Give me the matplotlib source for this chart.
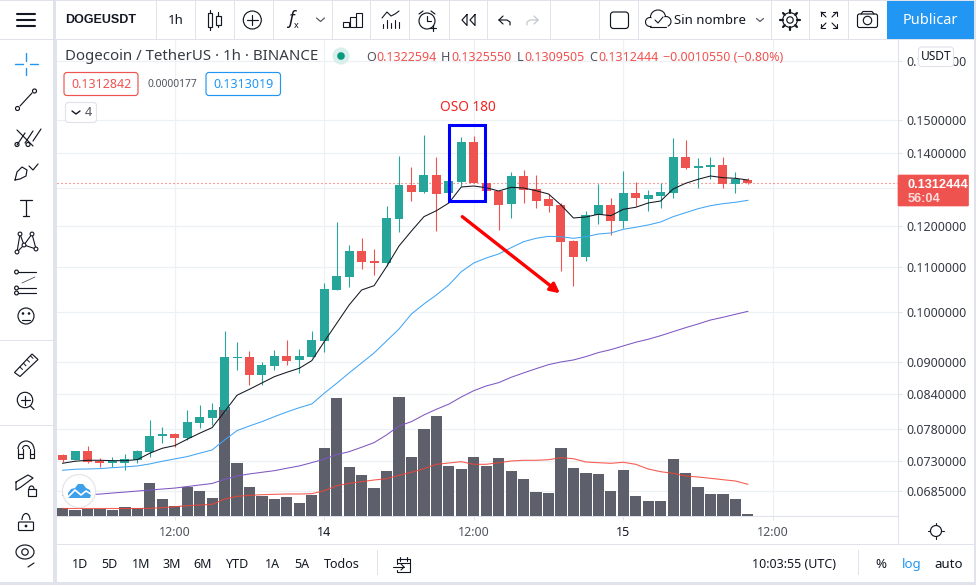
import matplotlib
matplotlib.use('Agg')
import matplotlib.pyplot as plt
from matplotlib.patches import Rectangle, Circle, FancyBboxPatch, Polygon, Arc
from matplotlib.ticker import NullLocator

plt.rcParams['font.family'] = ['Noto Sans', 'DejaVu Sans']

# hourly candles, bar 0 is 03:00 on the 13th
opens = [.07389, .07311, .07451, .07300, .07270, .07270, .07311, .07440, .07697, .07725,
         .07655, .07906, .07990, .08126, .09071, .09090, .08751, .08918, .09109, .09032,
         .09090, .09402, .10472, .10764, .11372, .11134, .11087, .12168, .13075, .12883,
         .13354, .12856, .13158, .14319, .13130, .12910, .12560, .13326, .12965, .12693,
         .12534, .11615, .11229, .12272, .12534, .12117, .12856, .12693, .12775, .12856,
         .13872, .13553, .13582, .13640, .13102, .13226]
highs = [.07405, .07451, .07531, .07342, .07363, .07405, .07467, .07956, .07835, .07746,
         .08126, .08212, .08247, .09603, .09383, .09206, .08994, .09225, .09422, .09245,
         .09603, .10628, .12091, .11518, .11689, .11420, .12507, .13902, .13582, .14532,
         .13872, .13185, .14471, .14501, .13130, .12910, .13439, .13495, .13354, .12829,
         .12587, .11639, .12375, .13102, .12720, .13467, .13158, .12937, .13130, .14440,
         .14379, .13843, .13872, .13872, .13439, .13256]
lows = [.07285, .07311, .07265, .07209, .07199, .07158, .07270, .07363, .07584, .07520,
        .07627, .07828, .07873, .08075, .08843, .08567, .08567, .08843, .08937, .08788,
        .09090, .09186, .10472, .10539, .10947, .10810, .11017, .11838, .12640, .12856,
        .11863, .12802, .13047, .13130, .12883, .11888, .12194, .12587, .12454, .12349,
        .10901, .10561, .11134, .12040, .11763, .11939, .12507, .12375, .12454, .12720,
        .13524, .12992, .13241, .12992, .12856, .13095]
closes = [.07311, .07451, .07285, .07270, .07291, .07327, .07451, .07692, .07725, .07660,
          .07923, .08007, .08126, .09090, .09090, .08751, .08937, .09109, .09013, .09109,
          .09422, .10494, .10787, .11372, .11110, .11087, .12194, .13075, .12883, .13354,
          .12829, .13185, .14319, .13130, .12910, .12534, .13326, .12937, .12640, .12507,
          .11590, .11229, .12272, .12534, .12117, .12856, .12720, .12802, .12883, .13872,
          .13553, .13611, .13640, .13102, .13241, .1312444]
ma_black = [.07260, .07291, .07306, .07306, .07300, .07300, .07316, .07416, .07494, .07536,
            .07638, .07736, .07828, .08097, .08383, .08490, .08604, .08719, .08800, .08875,
            .09019, .09389, .09760, .10146, .10472, .10568, .11001, .11493, .11863, .12228,
            .12383, .12587, .13020, .13047, .13000, .12910, .13011, .12992, .12918, .12829,
            .12534, .12194, .12220, .12290, .12254, .12420, .12473, .12587, .12640, .12965,
            .13122, .13233, .13326, .13278, .13261, .13213]
ma_blue = [.07153, .07169, .07173, .07178, .07193, .07204, .07219, .07250, .07291, .07327,
           .07363, .07416, .07467, .07627, .07779, .07856, .07928, .08012, .08092, .08165,
           .08230, .08418, .08598, .08788, .08975, .09167, .09402, .09643, .09954, .10167,
           .10362, .10584, .10885, .11087, .11205, .11300, .11452, .11598, .11681, .11730,
           .11720, .11681, .11720, .11788, .11813, .11906, .11957, .12015, .12091, .12228,
           .12331, .12435, .12515, .12568, .12605, .12658]
ma_purple = [.06784, .06788, .06795, .06802, .06817, .06831, .06846, .06860, .06875, .06889,
             .06911, .06934, .06956, .07018, .07067, .07098, .07123, .07147, .07184, .07219,
             .07270, .07322, .07394, .07440, .07510, .07584, .07708, .07856, .07928, .08041,
             .08138, .08227, .08352, .08464, .08549, .08609, .08707, .08788, .08867, .08943,
             .08994, .09032, .09096, .09174, .09231, .09304, .09377, .09436, .09508, .09589,
             .09670, .09746, .09828, .09885, .09947, .10010]
volumes = [8, 6, 7.3, 7, 6, 9, 8, 33, 17, 10,
           29.3, 25, 18, 109.3, 53, 29, 20, 17, 19, 13,
           21, 68, 118, 49, 41, 28, 45, 119, 59, 87,
           100, 50, 47, 59, 50, 58, 45, 37, 24, 23,
           68, 48, 43, 42, 25, 46, 20, 15, 15, 57,
           43, 29, 22, 22, 17, 2]
volume_ma = [7.5, 7.5, 7.5, 7.5, 7.5, 7.5, 7.5, 7.7, 8.3, 9.3,
             10.3, 11, 11.7, 17, 19.7, 20.7, 21.3, 21.7, 22, 22,
             22.3, 25.3, 30.3, 32.7, 34.3, 36, 37.3, 40.7, 43.7, 47.3,
             51.7, 53, 54.3, 51.7, 51.7, 53.3, 55, 55.7, 55.7, 56.3,
             58.3, 57.3, 54, 53.3, 52.7, 53.7, 51.7, 47, 44.3, 42.7,
             40, 39, 37.7, 36.3, 35, 31.7]

price_ticks = [.17, .15, .14, .13, .12, .11, .10, .09, .084, .078, .073, .0685]
time_ticks = [9, 21, 33, 45, 57]
time_labels = ['12:00', '14', '12:00', '15', '12:00']
last_price = .1312444

UP = '#26a69a'
DOWN = '#ef5350'
GRID = '#edf0f5'
EDGE = '#e0e3eb'
INK = '#131722'
GREY = '#50535e'
BLUE = '#2196f3'

fig = plt.figure(figsize=(9.76, 5.85), dpi=100)
W, H = 976.0, 585.0
rect = [57 / W, 1 - 516 / H, (898 - 57) / W, (516 - 40) / H]
bar_lim = (-0.45, 67.05)
price_lim = (.06494, .17765)

# grid and axis labels sit at the bottom
base = fig.add_axes(rect, zorder=1)
base.set_yscale('log')
base.set_xlim(bar_lim)
base.set_ylim(price_lim)
base.yaxis.tick_right()
base.set_yticks(price_ticks)
# the 0.13 label is hidden behind the last price tag
base.set_yticklabels(['' if p == .13 else '%.7f' % p for p in price_ticks], fontsize=9, color='#363a45')
base.yaxis.set_minor_locator(NullLocator())
base.set_xticks(time_ticks)
base.set_xticklabels(time_labels, fontsize=9, color=GREY)
for lab in base.get_xticklabels():
    if lab.get_text() in ('14', '15'):
        lab.set_color(INK)
base.tick_params(axis='y', length=3, width=0.72, color=EDGE, pad=2.8)
base.tick_params(axis='x', length=3, width=0.72, color=EDGE, pad=4)
base.grid(True, color=GRID, lw=0.9)
base.set_axisbelow(True)
for side in ('top', 'left'):
    base.spines[side].set_visible(False)
base.spines['right'].set_color(EDGE)
base.spines['bottom'].set_color(EDGE)

vol_ax = fig.add_axes(rect, zorder=2)
vol_ax.patch.set_alpha(0)
vol_ax.set_xlim(bar_lim)
vol_ax.set_ylim(0, 476)
vol_ax.axis('off')
bars = list(range(len(closes)))
vol_ax.bar(bars, volumes, width=0.9, color='#5d606b')
vol_ax.plot(bars, volume_ma, color='#f44336', lw=0.8, alpha=0.85)

ax = fig.add_axes(rect, zorder=3)
ax.patch.set_alpha(0)
ax.set_yscale('log')
ax.set_xlim(bar_lim)
ax.set_ylim(price_lim)
ax.axis('off')
colors = [UP if c >= o else DOWN for o, c in zip(opens, closes)]
ax.axhline(last_price, color=DOWN, lw=0.8, ls=(0, (1, 2.6)), zorder=1)
ax.vlines(bars, lows, highs, colors=colors, lw=0.8, zorder=2)
ax.bar(bars, [max(abs(c - o), .00012) for o, c in zip(opens, closes)],
       bottom=[min(o, c) for o, c in zip(opens, closes)], width=0.72, color=colors, zorder=3)
ax.plot(bars, ma_purple, color='#7e57c2', lw=0.75, zorder=4)
ax.plot(bars, ma_blue, color='#42a5f5', lw=0.75, zorder=4)
ax.plot(bars, ma_black, color='#131722', lw=0.75, zorder=4)

# what the author drew on the chart
ax.add_patch(Rectangle((31.0, .1265), 2.9, .1485 - .1265, fill=False, ec='#0000ff', lw=2.2, zorder=5))
ax.annotate('', xy=(39.92, .1040), xytext=(32.08, .12228), zorder=5,
            arrowprops=dict(arrowstyle='-|>,head_length=0.55,head_width=0.28', color='#ff0000', lw=2.4,
                            shrinkA=0, shrinkB=0))

# window chrome, in screen pixels
ui = fig.add_axes([0, 0, 1, 1], zorder=10)
ui.patch.set_alpha(0)
ui.set_xlim(0, W)
ui.set_ylim(H, 0)
ui.axis('off')


def box(x0, y0, x1, y1, color, z=1):
    ui.add_patch(Rectangle((x0, y0), x1 - x0, y1 - y0, fc=color, ec='none', zorder=z))


def line(xs, ys, color=INK, lw=0.85):
    ui.plot(xs, ys, color=color, lw=lw, solid_capstyle='round', zorder=5)


def ring(x, y, r, color=INK, lw=0.85, fc='none'):
    ui.add_patch(Circle((x, y), r, fc=fc, ec=color, lw=lw, zorder=5))


def rbox(x0, y0, x1, y1, ec, fc='white', lw=0.8, r=2):
    ui.add_patch(FancyBboxPatch((x0 + r, y0 + r), x1 - x0 - 2 * r, y1 - y0 - 2 * r,
                                boxstyle='round,pad=%d,rounding_size=%d' % (r, r),
                                fc=fc, ec=ec, lw=lw, zorder=4))


def label(x, y, s, size=9, color=INK, ha='left', weight='normal', style='normal', family=None):
    t = ui.text(x, y + 1, s, fontsize=size, color=color, ha=ha, va='center', weight=weight, style=style, zorder=6)
    if family:
        t.set_family(family)


# panels
box(0, 0, W, 40, 'white')
box(0, 40, 53, 585, 'white')
box(53, 40, 57, 585, EDGE)
box(53, 0, 56, 40, EDGE)
box(0, 39, W, 40.3, EDGE)
box(0, 0, W, 1, EDGE)
box(57, 544, W, 585, 'white')
box(57, 543.5, 976, 545, EDGE)
box(0, 582, W, 585, EDGE)
box(974, 0, W, 585, EDGE)
box(0, 339.5, 53, 341, EDGE)
box(0, 424.5, 53, 426, EDGE)
for x in [156, 194.7, 233.7, 272.7, 331.7, 370, 409, 448.7, 487, 550, 599.3, 638, 770.7, 809.3, 848.3]:
    box(x, 1, x + 1, 39, EDGE)
box(887, 1, 974, 39, BLUE)
label(930.5, 19, 'Publicar', 10.5, 'white', ha='center')

# top toolbar
for y in (14, 20, 26.3):
    line([17, 35], [y, y], lw=1.5)
label(65, 19, 'DOGEUSDT', 9, INK, weight='bold', family='Liberation Sans')
label(176, 19, '1h', 9.5, INK, ha='center')
line([210, 210], [10, 30])
box(208, 13, 212, 27, 'white', 5)
ui.add_patch(Rectangle((208, 13), 4, 14, fc='none', ec=INK, lw=0.85, zorder=5))
line([218, 218], [12, 27])
ui.add_patch(Rectangle((216, 16), 5, 9, fc='white', ec=INK, lw=0.85, zorder=6))
ring(252.3, 20, 9)
line([247, 257.5], [20, 20])
line([252.3, 252.3], [15, 25])
label(291, 18.5, 'f', 13, INK, ha='center', style='italic')
label(296, 24, 'x', 6.5, INK, ha='center')
line([316.5, 320.5, 324.5], [18, 21.5, 18], GREY)
for x0, top in ((343, 22), (350, 17), (356, 13)):
    ui.add_patch(Rectangle((x0, top), 6, 27 - top, fc='none', ec=INK, lw=0.8, zorder=5))
line([382, 387, 391, 395, 399], [18, 12, 16, 14, 11], lw=0.8)
for x, top in ((383, 24), (387, 20), (391, 23), (395, 20), (399, 22)):
    line([x, x], [top, 28], lw=0.8)
ring(427, 21, 8)
line([427, 427, 431], [16, 21, 21])
line([419, 423], [14, 11])
line([431, 435], [11, 14])
line([433, 433], [25, 31])
line([430, 436], [28, 28])
line([467, 462, 467, 467], [14.5, 20, 25.5, 14.5])
line([475, 470, 475, 475], [14.5, 20, 25.5, 14.5])
line([499, 503], [20, 16])
line([499, 503], [20, 24])
line([499, 507, 510, 510], [20, 20, 22, 25])
line([538, 534], [20, 16], '#c1c4cd')
line([538, 534], [20, 24], '#c1c4cd')
line([538, 530, 527, 527], [20, 20, 22, 25], '#c1c4cd')
rbox(610.5, 12, 628.5, 28.5, INK, lw=0.85, r=3)
ui.add_patch(Arc((658, 17), 15, 14, theta1=180, theta2=360, ec=INK, lw=0.8, zorder=5))
ui.add_patch(Arc((650, 22), 9, 9, theta1=70, theta2=290, ec=INK, lw=0.8, zorder=5))
ui.add_patch(Arc((666, 21.5), 10, 10, theta1=250, theta2=70, ec=INK, lw=0.8, zorder=5))
line([650, 666], [26.5, 26.5], lw=0.8)
line([655, 658, 663], [20, 23, 17], lw=0.8)
label(674, 19, 'Sin nombre', 9.5, INK)
line([756.5, 760, 763.5], [18.5, 21.5, 18.5], GREY)
ring(790, 20, 3.2)
ring(790, 20, 7.3)
for c, s in [(1, 0), (.71, .71), (0, 1), (-.71, .71), (-1, 0), (-.71, -.71), (0, -1), (.71, -.71)]:
    line([790 + 7.3 * c, 790 + 9.8 * c], [20 + 7.3 * s, 20 + 9.8 * s], lw=1.6)
for sx, sy in ((-1, -1), (1, -1), (-1, 1), (1, 1)):
    line([829 + 8 * sx, 829 + 3 * sx], [20 + 8 * sy, 20 + 3 * sy], lw=0.8)
    line([829 + 8 * sx, 829 + 4 * sx], [20 + 8 * sy, 20 + 8 * sy], lw=0.8)
    line([829 + 8 * sx, 829 + 8 * sx], [20 + 8 * sy, 20 + 4 * sy], lw=0.8)
rbox(857.5, 14, 877.5, 27.5, INK, lw=0.85, r=2)
ring(867.5, 20.5, 4.2)
line([861, 863, 872, 874], [14, 11.5, 11.5, 14])

# left toolbar
line([26, 26], [53, 60.5], BLUE, 1.0)
line([26, 26], [67.5, 75], BLUE, 1.0)
line([15, 22.5], [64, 64], BLUE, 1.0)
line([29.5, 38], [64, 64], BLUE, 1.0)
line([20, 32], [106, 93])
ring(17.5, 108.5, 2)
ring(34.5, 91, 2)
for dx in (0, 8, 16):
    line([17 + dx, 29 + dx - 4], [145 - dx * .25, 133 - dx * .25])
line([17, 33], [130, 146])
ring(17, 144.5, 2)
ring(28, 144.5, 2)
line([15, 17, 22, 27, 26, 20, 15], [180, 172, 167, 170, 176, 179, 180])
line([29, 33, 38], [166, 170, 164])
line([20, 32], [200, 200], lw=0.9)
line([26, 26], [200, 216], lw=0.9)
line([23, 29], [216, 216], lw=0.9)
for (x0, y0), (x1, y1) in [((17, 252), (20, 234)), ((20, 234), (24, 245)), ((24, 245), (32, 234)),
                           ((32, 234), (36, 249)), ((24, 245), (36, 249)), ((17, 252), (24, 245))]:
    line([x0, x1], [y0, y1], lw=0.8)
for x, y in [(17, 252), (20, 234), (24, 245), (32, 234), (36, 249)]:
    ring(x, y, 1.9, lw=0.8, fc='white')
for y, x0 in ((272, 18), (288, 18), (293, 18)):
    line([x0, 36], [y, y], lw=0.85)
    ring(16.5, y, 1.9, fc='white')
line([22, 35], [283, 277], GREY, 0.6)
ring(26, 316, 8)
line([22, 30], [320, 320])
ring(23, 313.5, 0.7, fc=INK)
ring(29, 313.5, 0.7, fc=INK)
ui.add_patch(Polygon([(14.5, 372.5), (32, 354), (38, 359.5), (20, 376.5)], fill=False, ec=INK, lw=0.85, zorder=5))
for k in range(4):
    line([20 + 3.5 * k, 22.5 + 3.5 * k], [367 - 3.7 * k, 369.5 - 3.7 * k], lw=0.7)
ring(25, 400, 7.7)
line([20.5, 29.5], [400, 400])
line([25, 25], [395.5, 404.5])
line([30.5, 34], [406, 409.5])
ui.add_patch(Arc((26, 449), 16, 16, theta1=180, theta2=360, ec=INK, lw=0.85, zorder=5))
ui.add_patch(Arc((26, 449), 7, 7, theta1=180, theta2=360, ec=INK, lw=0.85, zorder=5))
for x0, x1 in ((18, 22.5), (29.5, 34)):
    line([x0, x0, x1, x1], [449, 458, 458, 449])
    line([x0, x1], [454, 454])
line([16, 28, 33, 21, 16, 16], [482, 475, 478, 487, 490, 482], lw=0.85)
ui.add_patch(Rectangle((27.5, 489), 8, 6.5, fc='white', ec=INK, lw=0.85, zorder=5))
ui.add_patch(Arc((31.5, 489), 5, 6, theta1=180, theta2=360, ec=INK, lw=0.85, zorder=5))
rbox(18.5, 522, 33.5, 530.5, INK, lw=0.85, r=1)
ui.add_patch(Arc((26, 520), 8, 13, theta1=180, theta2=360, ec=INK, lw=0.85, zorder=5))
ring(26, 526, 0.8, fc=INK)
ui.add_patch(Arc((25, 552), 18, 14, theta1=0, theta2=360, ec=INK, lw=0.85, zorder=5))
ring(25, 552, 3.2)
line([28, 34], [567, 563], lw=0.85)

# legend line
label(65, 56, 'Dogecoin / TetherUS · 1h · BINANCE', 10.8, '#363a45')
ring(341, 56, 8.5, color='none', fc='#d8efeb')
ring(341, 56, 3.8, color='none', fc='#089981')
quote = [(366, 'O', GREY), (376, '0.1322594', DOWN), (441, 'H', GREY), (451, '0.1325550', DOWN),
         (516.5, 'L', GREY), (524, '0.1309505', DOWN), (589, 'C', GREY), (598, '0.1312444', DOWN),
         (663, '\u22120.0010550 (\u22120.80%)', DOWN)]
for x, s, col in quote:
    label(x, 56.5, s, 9, col)
rbox(64, 72.5, 138, 95.5, DOWN, lw=0.85, r=3)
label(101, 84, '0.1312842', 9, DOWN, ha='center')
label(147, 83.5, '0.0000177', 7.4, GREY)
rbox(206, 72.5, 280.5, 95.5, BLUE, lw=0.85, r=3)
label(243, 84, '0.1313019', 9, BLUE, ha='center')
rbox(65.5, 102.5, 96.5, 122.5, EDGE, lw=0.85, r=3)
line([72, 76, 80], [111, 114, 111], lw=1.0)
label(88, 112, '4', 9, GREY, ha='center')
label(468, 106.5, 'OSO 180', 9.8, '#f22222', ha='center')

# price scale extras
rbox(918.5, 47, 953.5, 66.5, EDGE, lw=0.85, r=3)
label(936, 55.5, 'USDT', 8.6, INK, ha='center')
rbox(898, 175, 968.5, 206, DOWN, fc=DOWN, lw=0.5, r=1)
label(908, 183.5, '0.1312444', 9.2, 'white', weight='bold', family='Liberation Sans')
label(908, 197.5, '56:04', 9.2, '#fbdcdb', weight='bold', family='Liberation Sans')
ring(936, 531, 5.5, lw=0.85)
for dx, dy in ((0, -7), (0, 7), (-7, 0), (7, 0)):
    line([936 + dx * .85, 936 + dx * 1.1], [531 + dy * .85, 531 + dy * 1.1], lw=0.8)
box(898, 516, 899, 544, EDGE, 2)

# logo
ring(79, 491, 16.5, color='#e6e6e6', fc='white', lw=0.9)
ui.add_patch(Polygon([(68, 498), (68, 493), (71, 489), (75, 488), (78, 484), (83, 484), (86, 488), (90, 490),
                      (91, 495), (90, 498)], fc='#3f9fe8', ec='none', zorder=6))
ui.plot([68, 75, 81, 86, 91], [497, 490, 495, 491, 494], color='white', lw=1.2, zorder=7)

# bottom bar
ranges = [(80, '1D'), (109.5, '5D'), (140.7, '1M'), (171.8, '3M'), (203, '6M'), (237.8, 'YTD'),
          (272, '1A'), (302, '5A'), (342, 'Todos')]
for x, s in ranges:
    label(x, 563.5, s, 9, INK, ha='center')
box(376.5, 550, 377.5, 575, EDGE, 2)
line([397, 410, 410, 397, 397], [559, 559, 572, 572, 570], lw=0.8)
line([397, 397], [559, 563.5], lw=0.8)
line([397, 410], [562.5, 562.5], lw=0.8)
line([400, 400], [557, 560.5], lw=0.8)
line([407, 407], [557, 560.5], lw=0.8)
line([393, 404], [567, 567], lw=0.8)
line([401, 404, 401], [564, 567, 570], lw=0.8)
label(793.5, 563.5, '10:03:55 (UTC)', 9, INK, ha='center')
box(857.5, 550, 858.5, 575, EDGE, 2)
label(881, 563.5, '%', 9.5, INK, ha='center')
label(912, 563.5, 'log', 9.5, BLUE, ha='center')
label(948.5, 563.5, 'auto', 9.5, INK, ha='center')

fig.savefig('out.png', dpi=100)
